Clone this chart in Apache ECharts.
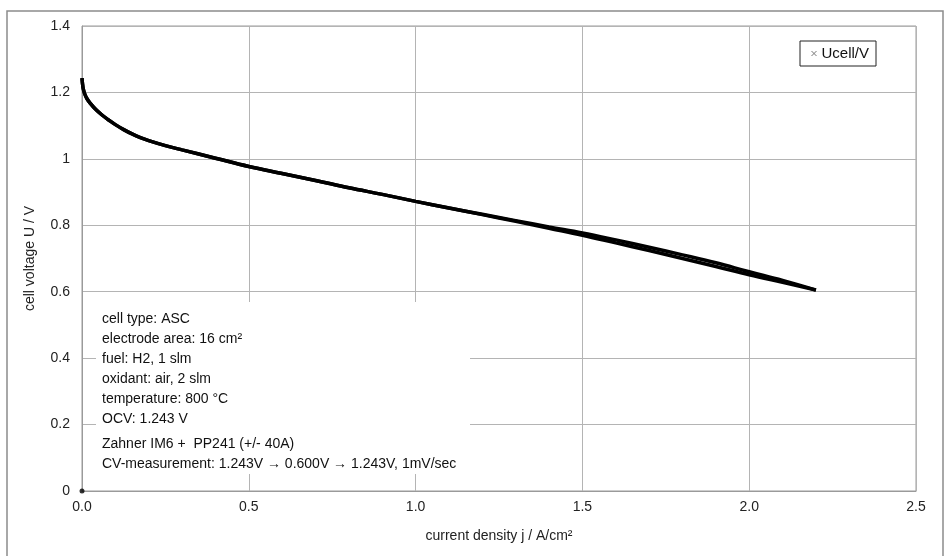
<!DOCTYPE html>
<html>
<head>
<meta charset="utf-8">
<script src="https://cdn.jsdelivr.net/npm/echarts@6/dist/echarts.min.js"></script>
<style>
  html, body { margin: 0; padding: 0; background: #fff; }
  #chart { width: 949px; height: 556px; }
</style>
</head>
<body>
<div id="chart"></div>
<script>
  // sweep down: current density (A/cm²) and cell voltage (V)
  var jDown = [0, 0.003, 0.008, 0.015, 0.025, 0.04, 0.06, 0.08, 0.1, 0.125, 0.15, 0.175, 0.2, 0.25, 0.3, 0.4, 0.5,
               0.6, 0.7, 0.8, 0.9, 1.0, 1.1, 1.2, 1.3, 1.4, 1.5, 1.6, 1.7, 1.8, 1.9, 2.0, 2.1, 2.2];
  var uDown = [1.243, 1.215, 1.196, 1.181, 1.167, 1.150, 1.132, 1.117, 1.103, 1.088, 1.075, 1.064, 1.055, 1.040, 1.027, 1.002, 0.977,
               0.956, 0.935, 0.913, 0.893, 0.872, 0.852, 0.833, 0.814, 0.795, 0.777, 0.756, 0.734, 0.711, 0.687, 0.660, 0.634, 0.605];
  // sweep back up
  var jUp = [2.2, 2.1, 2.0, 1.9, 1.8, 1.7, 1.6, 1.5, 1.4, 1.3, 1.2, 1.1, 1.0, 0.9, 0.8, 0.7, 0.6, 0.5,
             0.4, 0.3, 0.25, 0.2, 0.175, 0.15, 0.125, 0.1, 0.08, 0.06, 0.04, 0.025, 0.015, 0.008, 0.003, 0];
  var uUp = [0.605, 0.628, 0.651, 0.676, 0.700, 0.724, 0.747, 0.770, 0.791, 0.812, 0.832, 0.852, 0.872, 0.893, 0.913, 0.935, 0.956, 0.977,
             1.002, 1.027, 1.040, 1.055, 1.064, 1.075, 1.088, 1.103, 1.117, 1.132, 1.150, 1.167, 1.181, 1.196, 1.215, 1.243];
  // stray point at the origin
  var originPoint = [[0, 0]];

  var xTicks = ['0.0', '0.5', '1.0', '1.5', '2.0', '2.5'];

  var cellInfo = [
    'cell type: ASC',
    'electrode area: 16 cm²',
    'fuel: H2, 1 slm',
    'oxidant: air, 2 slm',
    'temperature: 800 °C',
    'OCV: 1.243 V'
  ];
  var setupInfo = [
    'Zahner IM6 +  PP241 (+/- 40A)',
    'CV-measurement: 1.243V \u2192 0.600V \u2192 1.243V, 1mV/sec'
  ];

  function pairs(xs, ys) {
    return xs.map(function (x, i) { return [x, ys[i]]; });
  }

  var font = 'Liberation Sans, Arial, sans-serif';
  var myChart = echarts.init(document.getElementById('chart'));

  var branch = {
    name: 'Ucell/V',
    type: 'line',
    smooth: 0.4,
    showSymbol: false,
    lineStyle: { color: '#000', width: 3.5 },
    z: 3
  };

  var option = {
    animation: false,
    textStyle: { fontFamily: font },
    grid: {
      left: 82, right: 33, top: 26, bottom: 65,
      show: true, borderColor: '#9a9a9a', borderWidth: 1
    },
    legend: {
      left: 800, top: 41,
      padding: [5, 7, 5, 9],
      borderColor: '#222', borderWidth: 1,
      itemWidth: 5, itemHeight: 5, itemGap: 5,
      icon: 'path://M0,0 L10,10 M10,0 L0,10',
      textStyle: { fontSize: 15, color: '#111', fontFamily: font },
      data: [{ name: 'Ucell/V', itemStyle: { color: 'none', borderColor: '#777', borderWidth: 1 } }]
    },
    xAxis: {
      type: 'value', min: 0, max: 2.5, interval: 0.5,
      name: 'current density j / A/cm²',
      nameLocation: 'middle', nameGap: 38,
      nameTextStyle: { fontSize: 14, color: '#222', fontFamily: font },
      axisLine: { onZero: false, lineStyle: { color: '#9a9a9a' } },
      axisTick: { show: false },
      axisLabel: {
        fontSize: 14, color: '#222', margin: 9, fontFamily: font,
        formatter: function (v) { return xTicks[Math.round(v / 0.5)]; }
      },
      splitLine: { lineStyle: { color: '#b4b4b4' } }
    },
    yAxis: {
      type: 'value', min: 0, max: 1.4, interval: 0.2,
      name: 'cell voltage U / V',
      nameLocation: 'middle', nameGap: 45, nameRotate: 90,
      nameTextStyle: { fontSize: 14, color: '#222', fontFamily: font },
      axisLine: { show: true, lineStyle: { color: '#9a9a9a' } },
      axisTick: { show: false },
      axisLabel: { fontSize: 14, color: '#222', margin: 12, fontFamily: font },
      splitLine: { lineStyle: { color: '#b4b4b4' } }
    },
    series: [
      Object.assign({}, branch, { data: pairs(jDown, uDown) }),
      Object.assign({}, branch, { data: pairs(jUp, uUp) }),
      {
        name: 'origin',
        type: 'scatter',
        data: originPoint,
        symbolSize: 5,
        itemStyle: { color: '#000' },
        z: 4
      }
    ],
    graphic: [
      {
        type: 'rect',
        shape: { x: 7, y: 11, width: 936, height: 560 },
        style: { fill: 'none', stroke: '#8c8c8c', lineWidth: 1.5 },
        silent: true, z: 0
      },
      {
        type: 'rect',
        shape: { x: 96, y: 302, width: 374, height: 172 },
        style: { fill: '#fff' },
        silent: true, z: 10
      },
      {
        type: 'text',
        left: 102, top: 309,
        style: {
          text: cellInfo.join('\n'),
          font: '14px ' + font,
          lineHeight: 20,
          fill: '#111'
        },
        silent: true, z: 11
      },
      {
        type: 'text',
        left: 102, top: 434,
        style: {
          text: setupInfo.join('\n'),
          font: '14px ' + font,
          lineHeight: 20,
          fill: '#111'
        },
        silent: true, z: 11
      }
    ]
  };

  myChart.setOption(option);
</script>
</body>
</html>
